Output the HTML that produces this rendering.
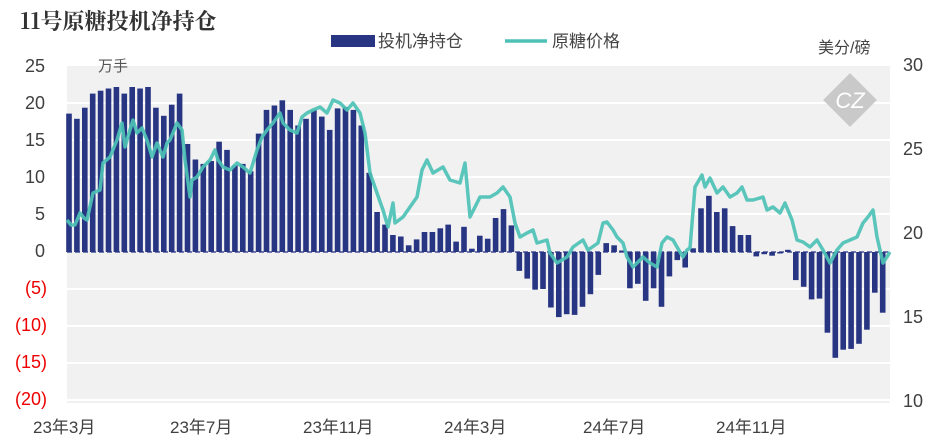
<!DOCTYPE html>
<html><head><meta charset="utf-8"><style>
body{margin:0;background:#fff;}
svg{display:block;}
text{font-family:"Liberation Sans","Noto Sans CJK SC",sans-serif;}
</style></head><body>
<svg id="s" width="949" height="443" viewBox="0 0 949 443" xmlns="http://www.w3.org/2000/svg">
<rect x="67" y="66" width="823" height="337" fill="#f1f1f1"/>
<g stroke="#fff" stroke-width="2">
<line x1="67" x2="890" y1="103" y2="103"/><line x1="67" x2="890" y1="140" y2="140"/>
<line x1="67" x2="890" y1="177" y2="177"/><line x1="67" x2="890" y1="214" y2="214"/>
<line x1="67" x2="890" y1="289" y2="289"/><line x1="67" x2="890" y1="326" y2="326"/>
<line x1="67" x2="890" y1="363" y2="363"/><line x1="67" x2="890" y1="400" y2="400"/>
</g>
<g transform="translate(850,100) rotate(45)"><rect x="-19" y="-19" width="38" height="38" fill="#c9c9c9"/></g>
<text x="850" y="108" font-family="Liberation Serif,serif" font-size="22" fill="#fff" text-anchor="middle" font-style="italic">CZ</text>
<g id="bars" fill="#283583"></g>
<line x1="67" x2="890" y1="252" y2="252" stroke="#283583" stroke-width="1.3" stroke-dasharray="5,3"/>
<polyline id="ln" fill="none" stroke="#4dc1b5" stroke-opacity="0.92" stroke-width="3.5" stroke-linejoin="round"/>
<text x="20" y="29" style="font-family:'Noto Serif CJK SC','Liberation Serif',serif" font-size="22" font-weight="bold" fill="#333">11号原糖投机净持仓</text>
<rect x="331" y="35" width="44" height="12" fill="#283583"/>
<text x="378" y="47" font-size="17" fill="#444">投机净持仓</text>
<line x1="505" x2="547" y1="41" y2="41" stroke="#4dc1b5" stroke-width="3.5"/>
<text x="552" y="47" font-size="17" fill="#444">原糖价格</text>
<text x="818" y="53" font-size="16" fill="#444">美分/磅</text>
<text x="98" y="71" font-size="15" fill="#555">万手</text>
<g font-size="18" fill="#404040" text-anchor="end">
<text x="45" y="72">25</text><text x="45" y="109">20</text><text x="45" y="146">15</text>
<text x="45" y="183">10</text><text x="45" y="220">5</text><text x="45" y="257">0</text>
<text x="47" y="294" fill="#e00">(5)</text><text x="47" y="331" fill="#e00">(10)</text>
<text x="47" y="368" fill="#e00">(15)</text><text x="47" y="405" fill="#e00">(20)</text>
</g>
<g font-size="18" fill="#404040">
<text x="903" y="71">30</text><text x="903" y="155">25</text><text x="903" y="239">20</text>
<text x="903" y="323">15</text><text x="903" y="407">10</text>
</g>
<g font-size="17" fill="#404040">
<text x="33" y="433">23年3月</text><text x="170" y="433">23年7月</text><text x="303" y="433">23年11月</text>
<text x="444" y="433">24年3月</text><text x="583" y="433">24年7月</text><text x="716" y="433">24年11月</text>
</g>
</svg>
<script>
var v=[18.7,18,19.5,21.4,21.8,22.1,22.3,21.4,22.3,22.1,22.3,19.5,18.4,19.9,21.4,14.6,12.5,11.9,12.3,14.9,13.8,11.7,11.9,10.9,16,19.2,19.8,20.5,19.2,17.1,18,19.2,18.3,16.5,19.4,19.6,19.2,17.1,10.7,5.4,3.7,2.3,2.1,0.9,1.7,2.7,2.7,3.2,3.7,1.4,3.4,0.45,2.2,1.8,4.6,5.8,3.6,
-2.55,-3.6,-5.1,-5,-7.5,-8.8,-8.4,-8.5,-7.4,-5.7,-3.1,1.2,0.9,0.2,-4.9,-4.3,-6.6,-4.9,-7.4,-3.3,-1.1,-2.1,0.5,5.9,7.6,5.4,5.9,3.5,2.3,2.3,-0.6,-0.3,-0.5,-0.2,0.3,
-3.8,-4.7,-6.4,-6.3,-10.9,-14.3,-13.2,-13.1,-12.4,-10.5,-5.5,-8.2];
var g=document.getElementById('bars'),h='';
for(var i=0;i<v.length;i++){var x=69+i*7.9-2.8,y0=252,y=252-v[i]*7.4;
h+='<rect x="'+x.toFixed(1)+'" y="'+Math.min(y,y0).toFixed(1)+'" width="5.6" height="'+Math.abs(y-y0).toFixed(1)+'"/>';}
g.innerHTML=h;
document.getElementById('ln').setAttribute('points',"67,220 71,225 75,225 80,213 84,218 87,220 93,193 100,190 103,163 110,157 117,140 122,123 125,147 130,130 133,120 137,133 142,128 147,140 152,157 157,143 163,157 167,143 170,140 177,123 182,130 185,160 190,197 192,180 197,177 203,167 210,160 215,150 218,160 223,167 230,170 237,163 243,167 250,173 257,150 262,137 267,130 273,123 280,113 283,123 290,130 297,133 302,117 307,113 313,110 320,107 327,113 333,100 340,103 347,110 353,103 360,113 365,133 370,173 377,193 383,210 388,227 393,203 395,223 403,217 410,207 417,197 422,170 427,160 433,173 443,167 450,180 460,183 465,163 470,217 477,203 480,197 490,197 497,193 503,187 510,197 515,223 520,237 527,233 533,230 537,243 547,240 550,253 557,263 567,257 573,247 583,240 588,250 598,243 603,223 607,222 613,230 617,237 623,243 627,257 633,267 643,257 650,263 657,267 662,243 667,237 673,240 677,247 683,257 687,250 690,248 695,187 702,175 705,187 710,178 717,193 723,187 730,197 737,193 742,187 747,200 753,200 763,197 767,210 773,207 780,213 785,203 792,220 797,240 803,242 810,247 817,240 823,250 830,263 837,250 843,243 850,240 857,237 863,223 868,217 873,210 877,237 883,263 890,252");
</script>
</body></html>
